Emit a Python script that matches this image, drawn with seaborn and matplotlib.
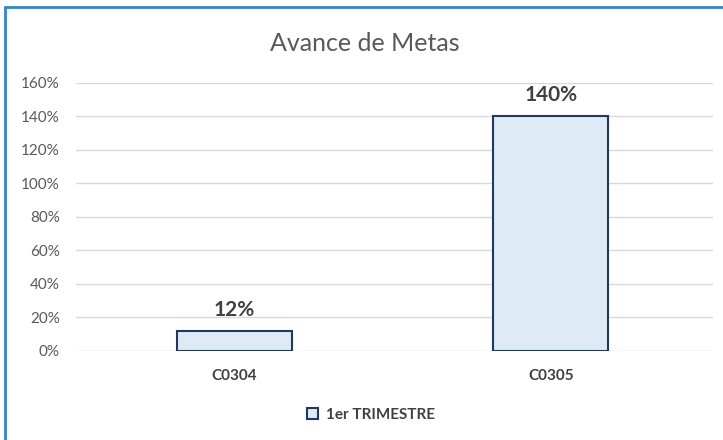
import matplotlib
matplotlib.use("Agg")
import matplotlib.pyplot as plt
import seaborn as sns
import pandas as pd
from matplotlib.ticker import PercentFormatter, MultipleLocator
from matplotlib.patches import Rectangle
from matplotlib.lines import Line2D

categories = ["C0304", "C0305"]
values = [0.12, 1.40]
series_name = "1er TRIMESTRE"
title = "Avance de Metas"

sns.set_theme(style="white")
plt.rcParams['font.family'] = ['Lato', 'DejaVu Sans']

df = pd.DataFrame({"Codigo": categories, "Avance": values, "Serie": [series_name] * len(categories)})

fig = plt.figure(figsize=(7.23, 4.40), dpi=100)
ax = fig.add_axes([0.105, 0.2023, 0.881, 0.6091])

fill = "#DEEAF6"
edge = "#1F3864"
sns.barplot(data=df, x="Codigo", y="Avance", hue="Serie", palette=[fill], dodge=False,
            width=0.363, edgecolor=edge, linewidth=1.5, ax=ax, saturation=1)

ax.set_xlim(-0.5, 1.512)
ax.set_ylim(0, 1.6)
ax.yaxis.set_major_locator(MultipleLocator(0.2))
ax.yaxis.set_major_formatter(PercentFormatter(1.0, decimals=0))
ax.grid(axis="y", color="#D9D9D9", linewidth=1)
ax.set_axisbelow(True)
for s in ax.spines.values():
    s.set_visible(False)
ax.set_xlabel("")
ax.set_ylabel("")
ax.tick_params(axis="y", labelsize=11, colors="#595959", length=0, pad=11.5)
ax.tick_params(axis="x", labelsize=11, colors="#404040", length=0, pad=13)
for t in ax.get_xticklabels():
    t.set_fontweight("bold")

for c in ax.containers:
    ax.bar_label(c, labels=[f"{v*100:.0f}%" for v in c.datavalues], padding=8,
                 fontsize=15, fontweight="bold", color="#404040")

fig.text(0.505, 0.902, title, ha="center", va="center", fontsize=18, color="#595959")

leg = ax.get_legend()
if leg is not None:
    leg.remove()
handle = Rectangle((0, 0), 1, 1, facecolor=fill, edgecolor=edge, linewidth=1.5)
fig.legend([handle], [series_name], loc="center", bbox_to_anchor=(0.513, 0.057), frameon=False,
           handlelength=0.75, handleheight=0.75, handletextpad=0.5,
           prop={"size": 11, "weight": "bold"}, labelcolor="#404040")

# outer blue frame (top and left edges)
fig.add_artist(Line2D([0.0068, 1.0], [0.984, 0.984], transform=fig.transFigure, color="#2E86D4", linewidth=2))
fig.add_artist(Line2D([0.0068, 0.0068], [0.0, 0.984], transform=fig.transFigure, color="#2E86D4", linewidth=2))

fig.savefig("out.png", dpi=100, facecolor="white")
